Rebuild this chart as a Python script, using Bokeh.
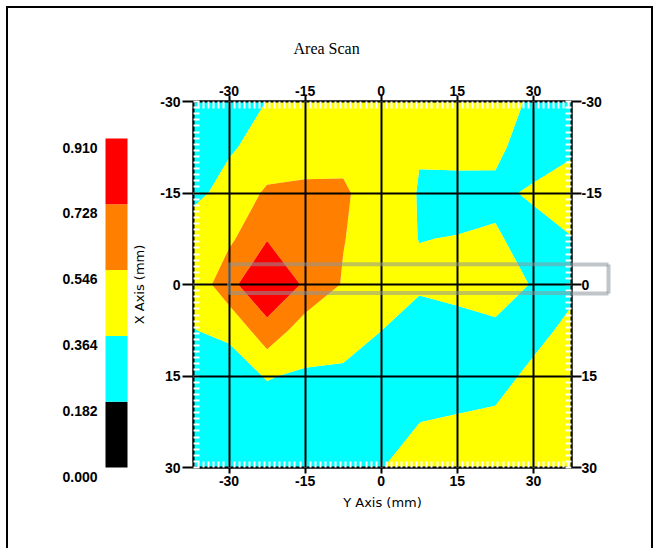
import numpy as np
from bokeh.plotting import figure
from bokeh.models import Range1d, LinearAxis, FixedTicker, PolyAnnotation
from bokeh.layouts import row
from bokeh.embed import file_html
from bokeh.resources import INLINE
from bokeh.core.properties import value

# ---------------- data ----------------
x_pos = [-37.5, -30, -22.5, -15, -7.5, 0, 7.5, 15, 22.5, 30, 37.5]
y_pos = [-30, -22.5, -15, -7.5, 0, 7.5, 15, 22.5, 30]

z_y_m30 = [0.24, 0.30, 0.366, 0.42, 0.45, 0.45, 0.44, 0.45, 0.42, 0.344, 0.30]
z_y_m22 = [0.27, 0.34, 0.44, 0.42, 0.52, 0.46, 0.375, 0.43, 0.40, 0.28, 0.33]
z_y_m15 = [0.30, 0.44, 0.569, 0.60, 0.558, 0.50, 0.352, 0.30, 0.328, 0.388, 0.46]
z_y_m7 = [0.48, 0.51, 0.72, 0.65, 0.553, 0.45, 0.36, 0.37, 0.383, 0.30, 0.357]
z_y_0 = [0.382, 0.68, 0.88, 0.705, 0.532, 0.45, 0.40, 0.42, 0.42, 0.356, 0.30]
z_y_p7 = [0.36, 0.386, 0.669, 0.45, 0.45, 0.366, 0.25, 0.30, 0.342, 0.28, 0.433]
z_y_p15 = [0.30, 0.31, 0.372, 0.345, 0.33, 0.26, 0.24, 0.25, 0.27, 0.427, 0.45]
z_y_p22 = [0.26, 0.27, 0.30, 0.28, 0.28, 0.27, 0.362, 0.387, 0.415, 0.45, 0.46]
z_y_p30 = [0.23, 0.24, 0.26, 0.24, 0.25, 0.36, 0.42, 0.44, 0.45, 0.47, 0.48]

levels = [0.000, 0.182, 0.364, 0.546, 0.728, 0.910]
level_labels = ["0.000", "0.182", "0.364", "0.546", "0.728", "0.910"]
band_colors = ["#000000", "#00ffff", "#ffff00", "#ff8000", "#ff0000"]

major_ticks = [-30, -15, 0, 15, 30]
tick_labels = ["-30", "-15", "0", "15", "30"]
minor_x = list(range(-37, 38))
minor_y = list(range(-30, 31))

title_text = "Area Scan"
x_title = "Y Axis (mm)"
y_title = "X Axis (mm)"

# cursor box (selection rectangle)
cursor_left, cursor_right = -30, 45
cursor_top, cursor_bottom = -3.3, 1.4

Z = np.array([z_y_m30, z_y_m22, z_y_m15, z_y_m7, z_y_0,
              z_y_p7, z_y_p15, z_y_p22, z_y_p30])

# ---------------- layout ----------------
W_TOTAL, H_TOTAL = 643, 540
W_CB = 120
TICK_FONT = "Liberation Sans"
overrides = {t: s for t, s in zip(major_ticks, tick_labels)}
CUR_COLOR, CUR_ALPHA, CUR_W = "#8c969c", 0.55, 4
CUR_IN = 38  # length of the cursor box part outside the frame (px)

p = figure(width=W_TOTAL - W_CB, height=H_TOTAL,
           x_range=Range1d(-37, 37.5), y_range=Range1d(30, -30),
           output_backend="svg", toolbar_location=None,
           min_border_left=65, min_border_right=80,
           min_border_top=93, min_border_bottom=81)
p.frame_align = False

p.contour(x=x_pos, y=y_pos, z=Z, levels=levels,
          fill_color=band_colors, line_color=None)

# right side: [0] white minor dashes at the frame edge, [1] labelled axis,
# [2] outer part of the cursor box (bounded axis line + inward minor ticks)
r_dash = LinearAxis(ticker=FixedTicker(ticks=[], minor_ticks=minor_y))
r_lab = LinearAxis(ticker=FixedTicker(ticks=major_ticks))
r_cur = LinearAxis(ticker=FixedTicker(ticks=[], minor_ticks=[cursor_top, cursor_bottom]),
                   bounds=(cursor_top, cursor_bottom))
p.add_layout(LinearAxis(), "above")
p.add_layout(r_dash, "right")
p.add_layout(r_lab, "right")
p.add_layout(r_cur, "right")

for ax in p.xaxis:
    ax.ticker = FixedTicker(ticks=major_ticks, minor_ticks=minor_x)
p.left[0].ticker = FixedTicker(ticks=major_ticks, minor_ticks=minor_y)

for ax in p.axis:
    ax.major_label_overrides = overrides
    ax.axis_line_color = "black"
    ax.axis_line_width = 2
    ax.major_tick_line_color = "black"
    ax.major_tick_line_width = 2
    ax.major_tick_in = 0
    ax.minor_tick_in = 6
    ax.minor_tick_out = 0
    ax.minor_tick_line_color = "white"
    ax.minor_tick_line_width = 2
    ax.major_label_text_font = TICK_FONT
    ax.major_label_text_font_style = "bold"
    ax.major_label_text_font_size = "14px"
    ax.major_label_text_color = "black"
    ax.axis_label_text_color = "black"

below, above = p.below[0], p.above[0]
left = p.left[0]

below.major_tick_out = 6
below.major_label_standoff = 2
below.axis_label = x_title
below.axis_label_text_font = "DejaVu Sans"
below.axis_label_text_font_size = "13px"
below.axis_label_text_font_style = "normal"
below.axis_label_standoff = 6

above.major_tick_out = 6
above.major_label_standoff = 0
above.minor_tick_in = 7

left.major_tick_out = 11
left.major_label_standoff = 2
left.axis_label = y_title
left.axis_label_text_font = "DejaVu Sans"
left.axis_label_text_font_size = "13px"
left.axis_label_text_font_style = "normal"
left.axis_label_standoff = 10

r_dash.major_tick_out = 0
r_dash.major_label_standoff = 0

r_lab.axis_line_color = None
r_lab.major_tick_out = 10
r_lab.major_label_standoff = 0
r_lab.axis_label = " "
r_lab.axis_label_text_font_size = "1px"
r_lab.axis_label_standoff = 0

r_cur.major_tick_out = 0
r_cur.major_label_standoff = 0
r_cur.minor_tick_in = CUR_IN
r_cur.minor_tick_out = 0
r_cur.minor_tick_line_color = CUR_COLOR
r_cur.minor_tick_line_alpha = CUR_ALPHA
r_cur.minor_tick_line_width = CUR_W
r_cur.axis_line_color = CUR_COLOR
r_cur.axis_line_alpha = CUR_ALPHA
r_cur.axis_line_width = CUR_W

p.xgrid.ticker = FixedTicker(ticks=major_ticks)
p.ygrid.ticker = FixedTicker(ticks=major_ticks)
p.grid.grid_line_color = "black"
p.grid.grid_line_width = 2
p.grid.grid_line_alpha = 1
p.grid.level = "overlay"

p.outline_line_color = "black"
p.outline_line_width = 2

p.title.text = title_text
p.title.align = "left"
p.title.offset = 100
p.title.text_font = "Liberation Serif"
p.title.text_font_size = "16px"
p.title.text_font_style = "normal"
p.title.text_color = "black"
p.title.standoff = 51

# cursor rectangle (the part inside the frame)
p.add_layout(PolyAnnotation(
    xs=[cursor_left, cursor_right, cursor_right, cursor_left],
    ys=[cursor_top, cursor_top, cursor_bottom, cursor_bottom],
    fill_color=None, fill_alpha=0,
    line_color=CUR_COLOR, line_alpha=CUR_ALPHA, line_width=CUR_W,
    level="overlay"))

# ---------------- colour scale ----------------
bar_top_px, bar_bot_px = 130, 459
scale = (bar_bot_px - bar_top_px) / (levels[-1] - levels[0])
y_hi = levels[-1] + bar_top_px / scale
y_lo = levels[0] - (H_TOTAL - bar_bot_px) / scale

cb = figure(width=W_CB, height=H_TOTAL, x_range=Range1d(0, W_CB),
            y_range=Range1d(y_lo, y_hi), output_backend="svg",
            toolbar_location=None, min_border=0,
            x_axis_location=None, y_axis_location=None)
cb.frame_align = False
cb.outline_line_color = None
cb.grid.visible = False
cb.quad(left=97, right=119, bottom=levels[:-1], top=levels[1:],
        fill_color=band_colors, line_color=None)
cb.text(x=89, y=levels, text=level_labels, text_align="right",
        text_baseline="middle", y_offset=9,
        text_font=value(TICK_FONT), text_font_style="bold",
        text_font_size="14px", text_color="black")

layout = row(cb, p)
layout.styles = {"outline": "2px solid black",
                 "margin-left": "8px", "margin-top": "8px"}

open("out.html", "w").write(file_html(layout, INLINE))
